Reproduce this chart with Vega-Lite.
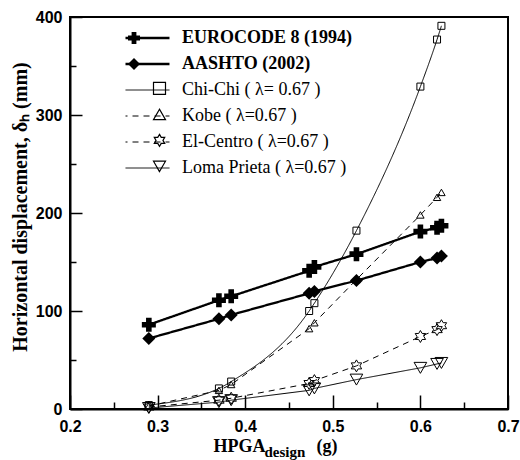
{
  "$schema": "https://vega.github.io/schema/vega-lite/v6.json",
  "autosize": "none",
  "width": 438,
  "height": 392,
  "padding": {"left": 70, "top": 17, "right": 12, "bottom": 51},
  "background": "white",
  "data": {"values": [
    {"record": "EUROCODE 8 (1994)", "hpga": 0.29, "disp": 86},
    {"record": "EUROCODE 8 (1994)", "hpga": 0.37, "disp": 111},
    {"record": "EUROCODE 8 (1994)", "hpga": 0.384, "disp": 115},
    {"record": "EUROCODE 8 (1994)", "hpga": 0.473, "disp": 141},
    {"record": "EUROCODE 8 (1994)", "hpga": 0.479, "disp": 145},
    {"record": "EUROCODE 8 (1994)", "hpga": 0.527, "disp": 158},
    {"record": "EUROCODE 8 (1994)", "hpga": 0.6, "disp": 181},
    {"record": "EUROCODE 8 (1994)", "hpga": 0.619, "disp": 185},
    {"record": "EUROCODE 8 (1994)", "hpga": 0.624, "disp": 187},
    {"record": "AASHTO (2002)", "hpga": 0.29, "disp": 72},
    {"record": "AASHTO (2002)", "hpga": 0.37, "disp": 92},
    {"record": "AASHTO (2002)", "hpga": 0.384, "disp": 96},
    {"record": "AASHTO (2002)", "hpga": 0.473, "disp": 118},
    {"record": "AASHTO (2002)", "hpga": 0.479, "disp": 120},
    {"record": "AASHTO (2002)", "hpga": 0.527, "disp": 131},
    {"record": "AASHTO (2002)", "hpga": 0.6, "disp": 150},
    {"record": "AASHTO (2002)", "hpga": 0.619, "disp": 154},
    {"record": "AASHTO (2002)", "hpga": 0.624, "disp": 156},
    {"record": "Chi-Chi ( λ= 0.67 )", "hpga": 0.29, "disp": 4},
    {"record": "Chi-Chi ( λ= 0.67 )", "hpga": 0.37, "disp": 21},
    {"record": "Chi-Chi ( λ= 0.67 )", "hpga": 0.384, "disp": 28},
    {"record": "Chi-Chi ( λ= 0.67 )", "hpga": 0.473, "disp": 100},
    {"record": "Chi-Chi ( λ= 0.67 )", "hpga": 0.479, "disp": 108},
    {"record": "Chi-Chi ( λ= 0.67 )", "hpga": 0.527, "disp": 182},
    {"record": "Chi-Chi ( λ= 0.67 )", "hpga": 0.6, "disp": 329},
    {"record": "Chi-Chi ( λ= 0.67 )", "hpga": 0.619, "disp": 377},
    {"record": "Chi-Chi ( λ= 0.67 )", "hpga": 0.624, "disp": 391},
    {"record": "Kobe ( λ=0.67 )", "hpga": 0.29, "disp": 3},
    {"record": "Kobe ( λ=0.67 )", "hpga": 0.37, "disp": 19},
    {"record": "Kobe ( λ=0.67 )", "hpga": 0.384, "disp": 25},
    {"record": "Kobe ( λ=0.67 )", "hpga": 0.473, "disp": 82},
    {"record": "Kobe ( λ=0.67 )", "hpga": 0.479, "disp": 88},
    {"record": "Kobe ( λ=0.67 )", "hpga": 0.527, "disp": 132},
    {"record": "Kobe ( λ=0.67 )", "hpga": 0.6, "disp": 198},
    {"record": "Kobe ( λ=0.67 )", "hpga": 0.619, "disp": 216},
    {"record": "Kobe ( λ=0.67 )", "hpga": 0.624, "disp": 221},
    {"record": "El-Centro ( λ=0.67 )", "hpga": 0.29, "disp": 2},
    {"record": "El-Centro ( λ=0.67 )", "hpga": 0.37, "disp": 9},
    {"record": "El-Centro ( λ=0.67 )", "hpga": 0.384, "disp": 11},
    {"record": "El-Centro ( λ=0.67 )", "hpga": 0.473, "disp": 26},
    {"record": "El-Centro ( λ=0.67 )", "hpga": 0.479, "disp": 29},
    {"record": "El-Centro ( λ=0.67 )", "hpga": 0.527, "disp": 44},
    {"record": "El-Centro ( λ=0.67 )", "hpga": 0.6, "disp": 74},
    {"record": "El-Centro ( λ=0.67 )", "hpga": 0.619, "disp": 81},
    {"record": "El-Centro ( λ=0.67 )", "hpga": 0.624, "disp": 85},
    {"record": "Loma Prieta ( λ=0.67 )", "hpga": 0.29, "disp": 1},
    {"record": "Loma Prieta ( λ=0.67 )", "hpga": 0.37, "disp": 7},
    {"record": "Loma Prieta ( λ=0.67 )", "hpga": 0.384, "disp": 9},
    {"record": "Loma Prieta ( λ=0.67 )", "hpga": 0.473, "disp": 19},
    {"record": "Loma Prieta ( λ=0.67 )", "hpga": 0.479, "disp": 21},
    {"record": "Loma Prieta ( λ=0.67 )", "hpga": 0.527, "disp": 30},
    {"record": "Loma Prieta ( λ=0.67 )", "hpga": 0.6, "disp": 42},
    {"record": "Loma Prieta ( λ=0.67 )", "hpga": 0.619, "disp": 46},
    {"record": "Loma Prieta ( λ=0.67 )", "hpga": 0.624, "disp": 47}
  ]},
  "resolve": {"axis": {"x": "independent", "y": "independent"}, "scale": {"shape": "independent"}, "legend": {"shape": "independent"}},
  "layer": [
    {
      "transform": [{"filter": {"field": "record", "oneOf": ["EUROCODE 8 (1994)", "AASHTO (2002)"]}}],
      "mark": {"type": "line", "color": "black", "strokeWidth": 2.3},
      "encoding": {
        "x": {"field": "hpga", "type": "quantitative", "scale": {"domain": [0.2, 0.7], "nice": false, "zero": false},
          "axis": {"orient": "bottom", "values": [0.2, 0.25, 0.3, 0.35, 0.4, 0.45, 0.5, 0.55, 0.6, 0.65, 0.7],
            "labelExpr": "round(datum.value*100)%10==0 ? format(datum.value,'.1f') : ''",
            "tickSize": {"condition": {"test": "round(datum.value*100)%10!=0", "value": -7}, "value": -14},
            "tickColor": "black", "tickWidth": 1.5, "domainColor": "black", "domainWidth": 2, "grid": false,
            "labelFont": "Liberation Sans", "labelFontWeight": "bold", "labelFontSize": 16, "labelColor": "black",
            "labelPadding": 23, "labelFlush": false, "labelOverlap": false,
            "title": "HPGA", "titleFont": "Liberation Serif", "titleFontWeight": "bold", "titleFontSize": 18, "titleColor": "black",
            "titleX": 143, "titleY": 42.7, "titleAlign": "left", "titleBaseline": "alphabetic"}},
        "y": {"field": "disp", "type": "quantitative", "scale": {"domain": [0, 400], "nice": false},
          "axis": {"orient": "left", "values": [0, 50, 100, 150, 200, 250, 300, 350, 400],
            "labelExpr": "datum.value%100==0 ? datum.label : ''",
            "tickSize": {"condition": {"test": "datum.value%100!=0", "value": -6}, "value": -12},
            "tickColor": "black", "tickWidth": 1.5, "domainColor": "black", "domainWidth": 2, "grid": false,
            "labelFont": "Liberation Sans", "labelFontWeight": "bold", "labelFontSize": 16, "labelColor": "black",
            "labelPadding": 20, "labelFlush": false, "labelOverlap": false,
            "title": "Horizontal displacement, δₕ (mm)", "titleFont": "Liberation Serif", "titleFontWeight": "bold", "titleFontSize": 20, "titleColor": "black",
            "titleX": -44, "titleY": 189.5, "titleAngle": -90, "titleAlign": "center", "titleBaseline": "alphabetic"}},
        "strokeDash": {"field": "record", "type": "nominal",
          "scale": {"domain": ["EUROCODE 8 (1994)", "AASHTO (2002)", "Chi-Chi ( λ= 0.67 )", "Kobe ( λ=0.67 )", "El-Centro ( λ=0.67 )", "Loma Prieta ( λ=0.67 )"],
            "range": [[1, 0], [1, 0], [1, 0], [6, 5], [6, 5], [1, 0]]},
          "legend": {"orient": "none", "legendX": 55.5, "legendY": 8.4, "title": null, "zindex": 0,
            "symbolType": "M-6,0H6", "symbolSize": 136, "symbolStrokeColor": "black", "symbolStrokeWidth": 1.2,
            "labelFont": "Liberation Serif", "labelFontSize": 18, "labelColor": "black", "labelOffset": 38.5, "labelLimit": 400,
            "clipHeight": 25.2, "rowPadding": 0, "padding": 0,
            "encode": {
              "labels": {"update": {"fontWeight": {"signal": "indexof(['EUROCODE 8 (1994)','AASHTO (2002)'], datum.value) >= 0 ? 'bold' : 'normal'"}}},
              "symbols": {"update": {"strokeWidth": {"signal": "indexof(['EUROCODE 8 (1994)','AASHTO (2002)'], datum.value) >= 0 ? 2.3 : 1"}, "stroke": {"value": "black"}}}
            }}}
      }
    },
    {
      "transform": [{"filter": {"field": "record", "equal": "Chi-Chi ( λ= 0.67 )"}}],
      "mark": {"type": "line", "color": "black", "strokeWidth": 1, "interpolate": "monotone"},
      "encoding": {
        "x": {"field": "hpga", "type": "quantitative",
          "axis": {"orient": "top", "labels": false, "ticks": false, "domain": false, "grid": false,
            "title": "design", "titleFont": "Liberation Serif", "titleFontWeight": "bold", "titleFontSize": 15, "titleColor": "black",
            "titleX": 194, "titleY": 439.7, "titleAlign": "left", "titleBaseline": "alphabetic"}},
        "y": {"field": "disp", "type": "quantitative",
          "axis": {"orient": "right", "labels": false, "ticks": false, "domain": false, "grid": false,
            "title": "(g)", "titleFont": "Liberation Serif", "titleFontWeight": "bold", "titleFontSize": 18, "titleColor": "black",
            "titleAngle": 0, "titleX": -192, "titleY": 434.7, "titleAlign": "left", "titleBaseline": "alphabetic"}},
        "strokeDash": {"field": "record", "type": "nominal"}
      }
    },
    {
      "transform": [{"filter": {"field": "record", "oneOf": ["Kobe ( λ=0.67 )", "El-Centro ( λ=0.67 )", "Loma Prieta ( λ=0.67 )"]}}],
      "mark": {"type": "line", "color": "black", "strokeWidth": 1},
      "encoding": {
        "x": {"field": "hpga", "type": "quantitative", "axis": null},
        "y": {"field": "disp", "type": "quantitative", "axis": null},
        "strokeDash": {"field": "record", "type": "nominal"}
      }
    },
    {
      "encoding": {
        "x": {"field": "hpga", "type": "quantitative", "axis": null},
        "y": {"field": "disp", "type": "quantitative", "axis": null},
        "shape": {"field": "record", "type": "nominal",
          "scale": {"domain": ["EUROCODE 8 (1994)", "AASHTO (2002)"], "range": ["cross", "diamond"]},
          "legend": {"orient": "none", "legendX": 55, "legendY": 8.4, "title": null, "zindex": 1,
            "symbolSize": 144, "symbolFillColor": "black", "symbolStrokeColor": "black", "symbolStrokeWidth": 1.2,
            "labelFont": "Liberation Serif", "labelFontSize": 18, "labelColor": "transparent", "labelExpr": "' '", "labelOffset": 13,
            "clipHeight": 25.2, "rowPadding": 0, "padding": 0}}
      },
      "layer": [
        {"transform": [{"filter": {"field": "record", "equal": "EUROCODE 8 (1994)"}}],
         "mark": {"type": "point", "filled": true, "color": "black", "opacity": 1, "size": 196}},
        {"transform": [{"filter": {"field": "record", "equal": "AASHTO (2002)"}}],
         "mark": {"type": "point", "filled": true, "color": "black", "opacity": 1, "size": 169}}
      ]
    },
    {
      "encoding": {
        "x": {"field": "hpga", "type": "quantitative", "axis": null},
        "y": {"field": "disp", "type": "quantitative", "axis": null},
        "shape": {"field": "record", "type": "nominal",
          "scale": {"domain": ["Chi-Chi ( λ= 0.67 )", "Kobe ( λ=0.67 )", "El-Centro ( λ=0.67 )", "Loma Prieta ( λ=0.67 )"],
            "range": ["square", "triangle-up", "M0,-1L0.289,-0.5L0.866,-0.5L0.577,0L0.866,0.5L0.289,0.5L0,1L-0.289,0.5L-0.866,0.5L-0.577,0L-0.866,-0.5L-0.289,-0.5Z", "triangle-down"]},
          "legend": {"orient": "none", "legendX": 80.5, "legendY": 58.8, "title": null, "zindex": 1,
            "symbolSize": 144, "symbolFillColor": "white", "symbolStrokeColor": "black", "symbolStrokeWidth": 1.2,
            "labelFont": "Liberation Serif", "labelFontSize": 18, "labelColor": "transparent", "labelExpr": "' '", "labelOffset": 13,
            "clipHeight": 25.2, "rowPadding": 0, "padding": 0}}
      },
      "layer": [
        {"transform": [{"filter": {"field": "record", "equal": "Chi-Chi ( λ= 0.67 )"}}],
         "mark": {"type": "point", "filled": false, "color": "black", "strokeWidth": 1, "opacity": 1, "size": 49}},
        {"transform": [{"filter": {"field": "record", "equal": "Kobe ( λ=0.67 )"}}],
         "mark": {"type": "point", "filled": false, "color": "black", "strokeWidth": 1, "opacity": 1, "size": 55}},
        {"transform": [{"filter": {"field": "record", "equal": "El-Centro ( λ=0.67 )"}}],
         "mark": {"type": "point", "filled": false, "color": "black", "strokeWidth": 1, "opacity": 1, "size": 144}},
        {"transform": [{"filter": {"field": "record", "equal": "Loma Prieta ( λ=0.67 )"}}],
         "mark": {"type": "point", "filled": false, "color": "black", "strokeWidth": 1, "opacity": 1, "size": 160}}
      ]
    }
  ],
  "config": {
    "view": {"stroke": "black", "strokeWidth": 2},
    "axis": {"grid": false}
  }
}
